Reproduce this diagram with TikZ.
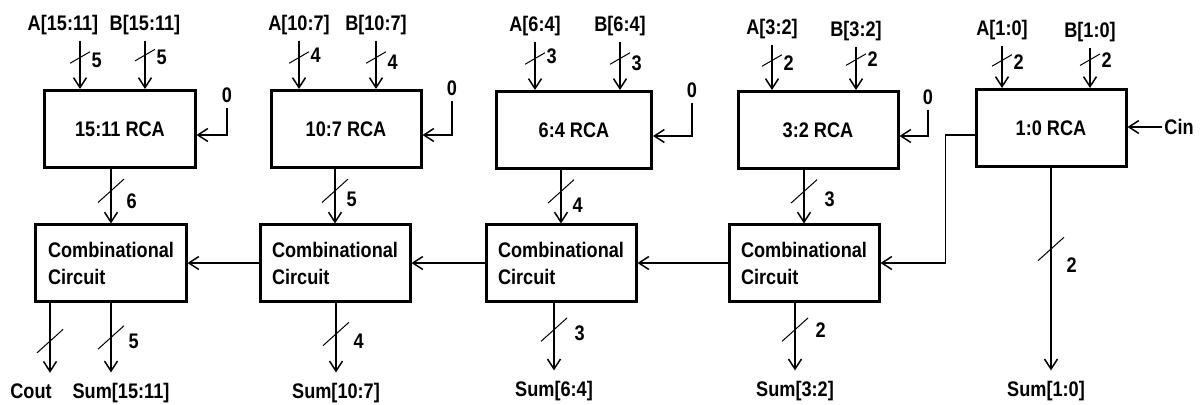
\documentclass[tikz,border=0pt]{standalone}
\usepackage{fontspec}
\setmainfont{Liberation Sans}[FakeStretch=0.86]
\usetikzlibrary{arrows.meta, positioning, calc}

\begin{document}
\begin{tikzpicture}[
    x=0.2mm, y=-0.2mm,
    font=\bfseries\fontsize{12}{15.4}\selectfont,
    rca/.style={draw=black, line width=0.6mm, minimum width=30mm, minimum height=15.4mm},
    comb/.style={draw=black, line width=0.6mm, minimum width=30mm, minimum height=15.2mm, align=left},
    arrow/.style={-{Straight Barb[length=2mm, width=2.6mm]}, line width=0.3mm},
    slashline/.style={draw, line width=0.2mm, inner sep=0pt, minimum height=0pt, minimum width=#1},
    busmark/.style={slashline=7mm, rotate=42},
    busin/.style={slashline=4.6mm, rotate=30},
    bits/.style={right=#1, inner sep=1pt},
    bits/.default=1.8mm,
    sig/.style={inner sep=1pt, outer ysep=0.8mm},
    sum/.style={inner sep=1pt, outer ysep=1.8mm}
]
\useasboundingbox (0,0) rectangle (1200,405);

% RCA blocks
\node[rca] (r15) at (120,129) {15:11 RCA};
\node[rca] (r10) at (346,129) {10:7 RCA};
\node[rca, minimum width=31mm] (r6) at (574,130) {6:4 RCA};
\node[rca, minimum width=32mm] (r3) at (818,130) {3:2 RCA};
\node[rca] (r1) at (1051,128) {1:0 RCA};

% Combinational circuits
\node[comb] (c15) at (111,263) {Combinational\\Circuit};
\node[comb] (c10) at (335,263) {Combinational\\Circuit};
\node[comb] (c6) at (561,263) {Combinational\\Circuit};
\node[comb] (c3) at (804,263) {Combinational\\Circuit};

% Operand inputs
\node[sig] (a15) at (63,25) {A[15:11]};
\node[sig] (b15) at (145,25) {B[15:11]};
\node[sig] (a10) at (299,25) {A[10:7]};
\node[sig] (b10) at (376,25) {B[10:7]};
\node[sig] (a6) at (535,26) {A[6:4]};
\node[sig] (b6) at (620,26) {B[6:4]};
\node[sig] (a3) at (772,29) {A[3:2]};
\node[sig] (b3) at (856,31) {B[3:2]};
\node[sig] (a1) at (1002,30) {A[1:0]};
\node[sig] (b1) at (1090,32) {B[1:0]};

\draw[arrow] (a15.south -| 80,0) -- (r15.north -| 80,0) node[pos=.35, busin] {} node[pos=.4, bits] {5};
\draw[arrow] (b15) -- (b15 |- r15.north) node[pos=.3, busin] {} node[pos=.35, bits] {5};
\draw[arrow] (a10) -- (a10 |- r10.north) node[pos=.35, busin] {} node[pos=.3, bits] {4};
\draw[arrow] (b10) -- (b10 |- r10.north) node[pos=.35, busin] {} node[pos=.45, bits] {4};
\draw[arrow] (a6) -- (a6 |- r6.north) node[pos=.35, busin] {} node[pos=.3, bits] {3};
\draw[arrow] (b6) -- (b6 |- r6.north) node[pos=.35, busin] {} node[pos=.45, bits] {3};
\draw[arrow] (a3) -- (a3 |- r3.north) node[pos=.35, busin] {} node[pos=.4, bits] {2};
\draw[arrow] (b3) -- (b3 |- r3.north) node[pos=.3, busin] {} node[pos=.3, bits] {2};
\draw[arrow] (a1) -- (a1 |- r1.north) node[pos=.35, busin] {} node[pos=.4, bits] {2};
\draw[arrow] (b1) -- (b1 |- r1.north) node[pos=.3, busin] {} node[pos=.3, bits] {2};

% Carry inputs
\node[sig] (z15) at (227,95) {0};
\node[sig] (z10) at (452,88) {0};
\node[sig] (z6) at (692,90) {0};
\node[sig] (z3) at (928,97) {0};
\node[sig] (cin) at (1179,127) {Cin};

\draw[arrow] (z15) |- ([yshift=-1.2mm]r15.east);
\draw[arrow] (z10) |- ([yshift=-1.2mm]r10.east);
\draw[arrow] (z6) |- ([yshift=-1.2mm]r6.east);
\draw[arrow] (z3) |- ([yshift=-1.2mm]r3.east);
\draw[arrow] (cin) -- (cin -| r1.east);

% RCA to combinational circuit
\draw[arrow] (r15.south -| c15.north) -- (c15.north) node[pos=.4, busmark] {} node[pos=.6, bits=2.6mm] {6};
\draw[arrow] (r10.south -| c10.north) -- (c10.north) node[pos=.4, busmark] {} node[pos=.55, bits] {5};
\draw[arrow] (r6.south -| c6.north) -- (c6.north) node[pos=.4, busmark] {} node[pos=.65, bits] {4};
\draw[arrow] (r3.south -| c3.north) -- (c3.north) node[pos=.4, busmark] {} node[pos=.55, bits=3.6mm] {3};

% Carry chain
\draw[arrow] ([yshift=-1.4mm]r1.west) -- ++(-29,0) |- (c3.east);
\draw[arrow] (c3) -- (c6);
\draw[arrow] (c6) -- (c10);
\draw[arrow] (c10) -- (c15);

% Outputs
\node[sum] (cout) at (31,391) {Cout};
\node[sum] (s15) at (121,393) {Sum[15:11]};
\node[sum] (s10) at (336,393) {Sum[10:7]};
\node[sum] (s6) at (554,391) {Sum[6:4]};
\node[sum] (s3) at (795,391) {Sum[3:2]};
\node[sum] (s1) at (1046,391) {Sum[1:0]};

\draw[arrow] (c15.south -| 50,0) -- (cout.north -| 50,0) node[pos=.55, busmark] {};
\draw[arrow] (c15.south) -- (c15.south |- s15.north) node[pos=.5, busmark] {} node[pos=.55, bits=3mm] {5};
\draw[arrow] (s10 |- c10.south) -- (s10) node[pos=.45, busmark] {} node[pos=.55, bits=3mm] {4};
\draw[arrow] (s6 |- c6.south) -- (s6) node[pos=.4, busmark] {} node[pos=.45, bits=3.6mm] {3};
\draw[arrow] (s3 |- c3.south) -- (s3) node[pos=.4, busmark] {} node[pos=.4, bits=3.6mm] {2};
\draw[arrow] (r1.south) -- (r1.south |- s1.north) node[pos=.4, busmark] {} node[pos=.48, bits=2.6mm] {2};

\end{tikzpicture}
\end{document}
